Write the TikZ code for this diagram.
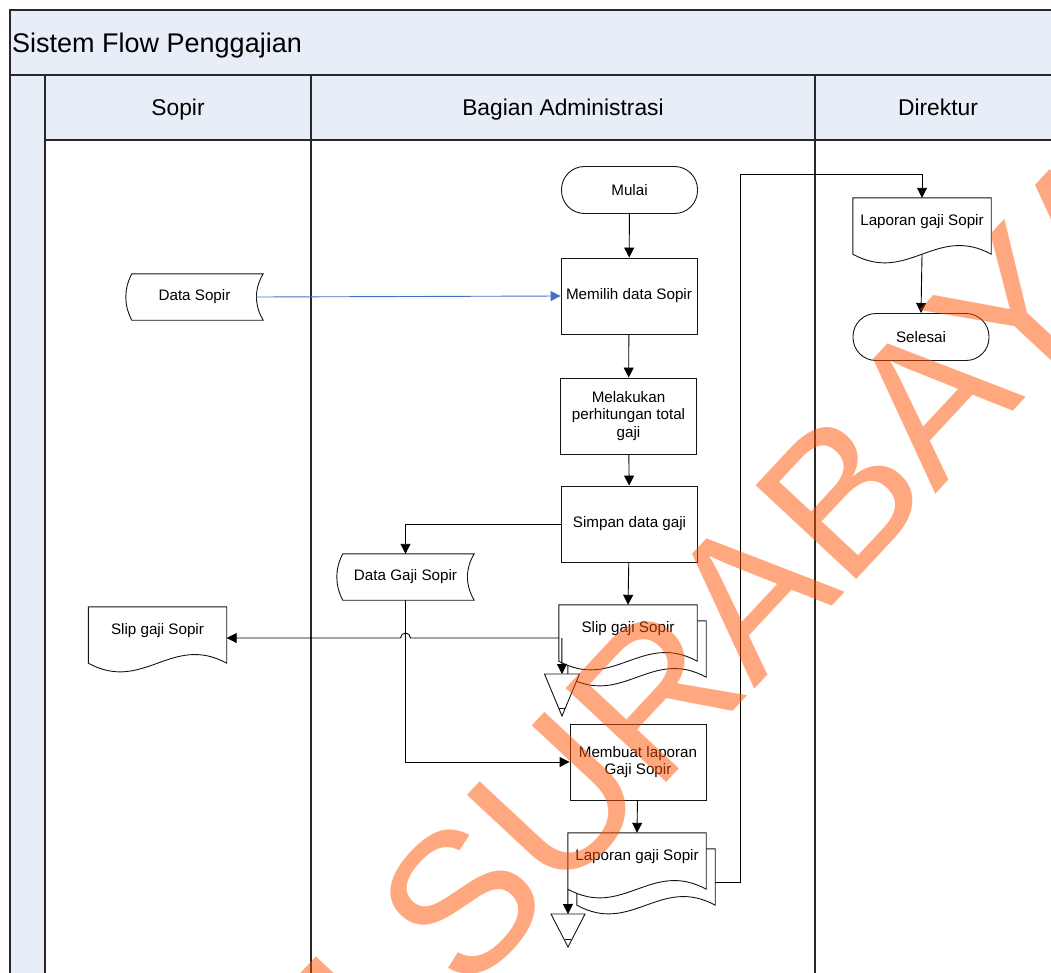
\documentclass[tikz,border=0pt]{standalone}
\usepackage{fontspec}
\setmainfont{Liberation Sans}
\usetikzlibrary{arrows.meta,calc}
\pgfdeclarelayer{lanes}
\pgfdeclarelayer{shapes}
\pgfsetlayers{lanes,shapes,main}

\definecolor{laneblue}{RGB}{232,238,247}
\definecolor{frameclr}{RGB}{40,40,40}
\definecolor{lineclr}{RGB}{20,20,20}
\definecolor{flowblue}{RGB}{68,114,196}
\definecolor{stampclr}{RGB}{255,81,0}

% document symbol with a wavy lower edge
\newcommand\docoutline[1]{%
  \draw[shapeline] (#1.north west) -- (#1.north east) -- ($(#1.south east)+(0,8)$)
    .. controls ($(#1.south east)+(-55,-22)$) and ($(#1.south west)+(55,38)$) ..
    ($(#1.south west)+(0,8)$) -- cycle;}
% stored data symbol with curved ends
\newcommand\storeoutline[1]{%
  \draw[shapeline] ($(#1.north west)+(6,0)$) -- (#1.north east)
    .. controls ($(#1.north east)+(-9,15)$) and ($(#1.south east)+(-9,-15)$) .. (#1.south east)
    -- ($(#1.south west)+(6,0)$)
    .. controls ($(#1.south west)+(-2,-15)$) and ($(#1.north west)+(-2,15)$) .. cycle;}
% off-page archive triangle hanging from a top centre point
\newcommand\archive[3]{%
  \draw[shapeline] ($(#1)+(-#3,0)$) -- ($(#1)+(#3,0)$) -- ($(#1)+(0,#2)$) -- cycle;
  \draw[shapeline] ($(#1)+(-3.4,#2-8)$) -- ($(#1)+(3.4,#2-8)$);}

\tikzset{
  x=1pt, y=-1pt,
  every node/.style={font=\fontsize{15.2}{17.5}\selectfont, text=black},
  frame/.style={draw=frameclr, line width=1.1pt},
  procbox/.style={draw=lineclr, line width=0.9pt, fill=white, minimum width=136pt,
    minimum height=76pt, inner sep=2pt, align=center},
  termbox/.style={draw=lineclr, line width=0.9pt, fill=white, rounded corners=23pt,
    minimum width=136pt, minimum height=47pt},
  docbox/.style={minimum width=138pt, minimum height=48pt, inner sep=0pt},
  storebox/.style={minimum width=137pt, minimum height=46pt, inner sep=0pt},
  shapeline/.style={draw=lineclr, line width=0.9pt, fill=white},
  flow/.style={draw=black, line width=0.9pt, -{Triangle[length=10pt,width=10pt]}},
  blueflow/.style={draw=flowblue, line width=0.9pt, -{Triangle[length=10pt,width=10pt]}},
  lanetitle/.style={font=\fontsize{22.8}{26}\selectfont, inner sep=0pt, anchor=base},
}

\begin{document}
\begin{tikzpicture}
\useasboundingbox (0,0) rectangle (1051,972);
\clip (0,0) rectangle (1051,972);

% swimlane frame
\begin{pgfonlayer}{lanes}
  \fill[laneblue] (10,10) rectangle (1060,75);
  \fill[laneblue] (10,75) rectangle (45,980);
  \fill[laneblue] (45,75) rectangle (1060,140);
  \draw[frame] (1060,10) -- (10,10) -- (10,980);
  \draw[frame] (10,75) -- (1060,75);
  \draw[frame] (45,75) -- (45,980);
  \draw[frame] (45,140) -- (1060,140);
  \draw[frame] (311,75) -- (311,980);
  \draw[frame] (815,75) -- (815,980);
\end{pgfonlayer}

\node[font=\fontsize{27}{30}\selectfont, inner sep=0pt, anchor=base west] (title) at (12,52) {Sistem Flow Penggajian};
\node[lanetitle] (laneSopir) at (178,115) {Sopir};
\node[lanetitle] (laneAdmin) at (563,115) {Bagian Administrasi};
\node[lanetitle] (laneDir) at (938,115) {Direktur};

% process steps
\node[termbox] (mulai) at (629.5,190) {Mulai};
\node[procbox] (memilih) at (629,296) {Memilih data Sopir};
\node[procbox] (melakukan) at (628.5,416) {Melakukan\\perhitungan total\\gaji};
\node[procbox] (simpan) at (629.5,524) {Simpan data gaji};
\node[procbox] (membuat) at (638,762) {Membuat laporan\\Gaji Sopir};
\node[termbox] (selesai) at (921,337) {Selesai};

% data stores
\node[storebox] (datasopir) at (194.5,297) {Data Sopir};
\node[storebox] (datagaji) at (405.5,577) {Data Gaji Sopir};

% documents
\node[docbox] (slipS) at (157.5,631) {Slip gaji Sopir};
\node[docbox] (slipB) at (637,645) {};
\node[docbox] (slipA) at (628,629) {Slip gaji Sopir};
\node[docbox] (lapB) at (646,873) {};
\node[docbox] (lapA) at (637,857) {Laporan gaji Sopir};
\node[docbox] (dirdoc) at (922,222) {Laporan gaji Sopir};

\coordinate (arch1) at (562,674);
\coordinate (arch2) at (568,914);
\coordinate (slipOut) at ($(slipA.west)+(0,9)$);
\coordinate (riser) at (740,174);

\begin{pgfonlayer}{shapes}
  \storeoutline{datasopir}
  \storeoutline{datagaji}
  \docoutline{slipS}
  \docoutline{slipB}
  \docoutline{slipA}
  \docoutline{lapB}
  \docoutline{lapA}
  \docoutline{dirdoc}
  \archive{arch1}{42}{17.5}
  \archive{arch2}{33}{17}
\end{pgfonlayer}

% connectors
\draw[flow] (mulai) -- (memilih);
\draw[blueflow] ($(datasopir.east)+(-7,0)$) -- (memilih.west);
\draw[flow] (memilih) -- (melakukan);
\draw[flow] (melakukan) -- (simpan);
\draw[flow] (simpan.west) -| (datagaji.north);
\draw[flow] (simpan) -- (slipA.north);
\draw[flow] (slipOut) -- ($(datagaji.south |- slipOut)+(5,0)$)
  arc[start angle=0, end angle=-180, radius=5] -- (slipS.east |- slipOut);
\draw[flow] ($(slipOut)+(3,0)$) -- (arch1);
\draw[flow] (datagaji.south) |- (membuat.west);
\draw[flow] (membuat) -- (lapA.north);
\draw[flow] ($(lapA.south west)+(0,8)$) -- (arch2);
\draw[flow] ($(lapB.east)+(0,9)$) -| (riser) -| (dirdoc.north);
\draw[flow] ($(dirdoc.south)+(0,8)$) -- (selesai.north);

% institutional watermark
\node[font=\fontsize{200}{240}\selectfont, text=stampclr, text opacity=0.5, rotate=47,
  anchor=base west, inner sep=0pt] (stampmark) at (466,998) {\llap{STIKOM\ }SURABAYA};
\end{tikzpicture}
\end{document}
